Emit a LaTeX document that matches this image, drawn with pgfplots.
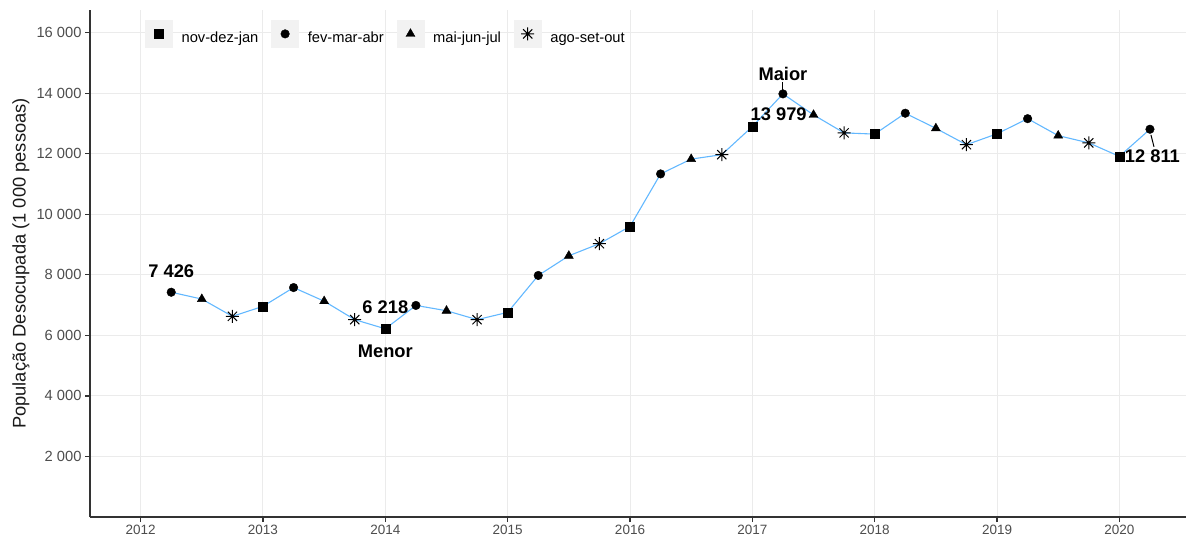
\documentclass[border=0pt]{standalone}
\usepackage{pgfplots}
\pgfplotsset{compat=1.18}
\usepackage{fontspec}
\setmainfont{Liberation Sans}
\definecolor{linecol}{HTML}{63B8FF}
\definecolor{gridcol}{HTML}{EBEBEB}
\definecolor{keybg}{HTML}{F2F2F2}
\definecolor{ticktext}{HTML}{4D4D4D}
\definecolor{axcol}{HTML}{333333}
\pgfdeclareplotmark{ast8}{%
  \pgfpathmoveto{\pgfqpoint{0pt}{\pgfplotmarksize}}%
  \pgfpathlineto{\pgfqpoint{0pt}{-\pgfplotmarksize}}%
  \pgfpathmoveto{\pgfqpoint{\pgfplotmarksize}{0pt}}%
  \pgfpathlineto{\pgfqpoint{-\pgfplotmarksize}{0pt}}%
  \pgfpathmoveto{\pgfqpoint{.7071\pgfplotmarksize}{.7071\pgfplotmarksize}}%
  \pgfpathlineto{\pgfqpoint{-.7071\pgfplotmarksize}{-.7071\pgfplotmarksize}}%
  \pgfpathmoveto{\pgfqpoint{-.7071\pgfplotmarksize}{.7071\pgfplotmarksize}}%
  \pgfpathlineto{\pgfqpoint{.7071\pgfplotmarksize}{-.7071\pgfplotmarksize}}%
  \pgfusepathqstroke}

\pgfplotstableread{
x y
2012.25 7426
2012.50 7200
2012.75 6630
2013.00 6960
2013.25 7580
2013.50 7130
2013.75 6520
2014.00 6218
2014.25 6990
2014.50 6815
2014.75 6520
2015.00 6760
2015.25 7980
2015.50 8630
2015.75 9030
2016.00 9600
2016.25 11335
2016.50 11825
2016.75 11970
2017.00 12900
2017.25 13979
2017.50 13285
2017.75 12690
2018.00 12650
2018.25 13340
2018.50 12840
2018.75 12300
2019.00 12660
2019.25 13160
2019.50 12600
2019.75 12360
2020.00 11914
2020.25 12811
}\alldata

\pgfplotstableread{
x y
2013.00 6960
2014.00 6218
2015.00 6760
2016.00 9600
2017.00 12900
2018.00 12650
2019.00 12660
2020.00 11914
}\sqdata

\pgfplotstableread{
x y
2012.25 7426
2013.25 7580
2014.25 6990
2015.25 7980
2016.25 11335
2017.25 13979
2018.25 13340
2019.25 13160
2020.25 12811
}\cidata

\pgfplotstableread{
x y
2012.50 7200
2013.50 7130
2014.50 6815
2015.50 8630
2016.50 11825
2017.50 13285
2018.50 12840
2019.50 12600
}\tridata

\pgfplotstableread{
x y
2012.75 6630
2013.75 6520
2014.75 6520
2015.75 9030
2016.75 11970
2017.75 12690
2018.75 12300
2019.75 12360
}\stdata

\begin{document}
\begin{tikzpicture}
\begin{axis}[
  at={(0,0)}, anchor=south west,
  scale only axis, width=1096pt, height=507pt,
  xmin=2011.586, xmax=2020.544, ymin=0, ymax=16750,
  axis x line*=bottom, axis y line*=left,
  axis line style={axcol, line width=1.2pt, -},
  xtick={2012,2013,2014,2015,2016,2017,2018,2019,2020},
  xticklabels={2012,2013,2014,2015,2016,2017,2018,2019,2020},
  ytick={2000,4000,6000,8000,10000,12000,14000,16000},
  scaled y ticks=false,
  /pgf/number format/1000 sep={\ },
  /pgf/number format/assume math mode=true,
  grid=major, major grid style={gridcol, line width=1pt},
  tick align=outside, major tick length=5pt,
  tick style={axcol, line width=1.2pt},
  xticklabel style={font=\fontsize{13.5}{15}\selectfont, text=ticktext},
  yticklabel style={font=\fontsize{14.7}{17}\selectfont, text=ticktext},
  ylabel={População Desocupada (1 000 pessoas)},
  ylabel style={at={(axis description cs:-0.0630,0.5)}, anchor=center, font=\fontsize{18.3}{20}\selectfont, text=black!90},
  legend columns=4,
  legend style={draw=none, fill=none, at={(rel axis cs:0.0502,0.9803)}, anchor=north west,
    font=\fontsize{14.7}{17}\selectfont, inner sep=0pt, nodes={inner sep=0pt},
    /tikz/every odd column/.append style={column sep=9pt},
    /tikz/every even column/.append style={column sep=13pt}},
  legend cell align=left,
  legend image code/.code={\fill[keybg] (0pt,-9pt) rectangle (27pt,18pt);
    \draw[#1] plot coordinates {(13.5pt,4.5pt)};},
]
\addplot[linecol, line width=1.1pt, no markers, forget plot] table[x=x,y=y] {\alldata};
\addplot[only marks, black, mark=square*, mark size=4.5pt, mark options={fill=black}] table[x=x,y=y] {\sqdata};
\addlegendentry{nov-dez-jan}
\addplot[only marks, black, mark=*, mark size=4.3pt, mark options={fill=black}] table[x=x,y=y] {\cidata};
\addlegendentry{fev-mar-abr}
\addplot[only marks, black, mark=triangle*, mark size=5.2pt, mark options={fill=black}] table[x=x,y=y] {\tridata};
\addlegendentry{mai-jun-jul}
\addplot[only marks, black, mark=ast8, mark size=6.5pt, mark options={line width=1pt}] table[x=x,y=y] {\stdata};
\addlegendentry{ago-set-out}

\draw[black, line width=1pt] (axis cs:2017.25,14375) -- (axis cs:2017.25,14045);
\draw[black, line width=1pt] (axis cs:2020.258,12625) -- (axis cs:2020.283,12230);
\begin{scope}[every node/.style={font=\bfseries\fontsize{18.3}{20}\selectfont, text=black, inner sep=0pt}]
\node at (axis cs:2012.25,8130) {7 426};
\node at (axis cs:2014.0,5460) {Menor};
\node at (axis cs:2014.0,6940) {6 218};
\node at (axis cs:2017.25,14652) {Maior};
\node at (axis cs:2017.215,13300) {13 979};
\node at (axis cs:2020.27,11918) {12 811};
\end{scope}
\end{axis}
\pgfresetboundingbox
\path (-90pt,-22pt) rectangle (1096pt,517pt);
\end{tikzpicture}
\end{document}
